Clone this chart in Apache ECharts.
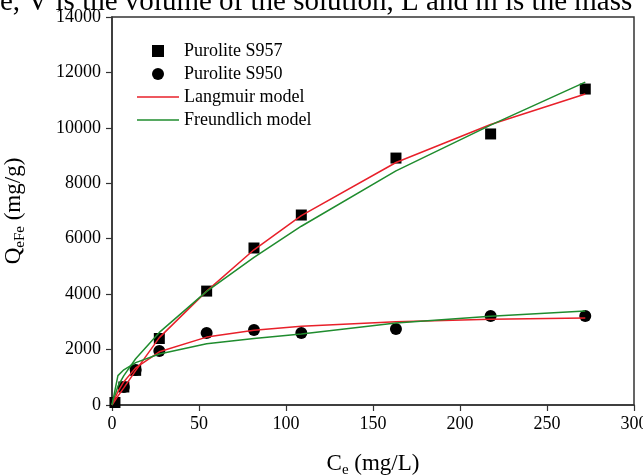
<!DOCTYPE html>
<html>
<head>
    <meta charset="utf-8">
    <script src="https://cdn.jsdelivr.net/npm/echarts@6/dist/echarts.min.js"></script>
    <style>
        html, body { margin: 0; padding: 0; background: #fff; }
    </style>
</head>
<body>
<div id="main" style="width: 643px;height:476px;"></div>
<script type="text/javascript">
    // measured points (Ce, Qe)
    var s957Ce = [1.7, 6.8, 13.6, 27.2, 54.4, 81.6, 108.8, 163.2, 217.6, 272];
    var s957Q  = [90, 650, 1250, 2400, 4110, 5665, 6855, 8910, 9780, 11400];
    var s950Ce = [6.8, 13.6, 27.2, 54.4, 81.6, 108.8, 163.2, 217.6, 272];
    var s950Q  = [650, 1260, 1950, 2600, 2710, 2600, 2740, 3210, 3210];

    // model lines
    var fitCe     = [0, 3.4, 6.8, 13.6, 27.2, 54.4, 81.6, 108.8, 163.2, 217.6, 272];
    var s957Lang  = [0, 320, 620, 1240, 2430, 4110, 5600, 6830, 8750, 10120, 11220];
    var s957Freu  = [0, 680, 1060, 1670, 2620, 4100, 5330, 6450, 8450, 10100, 11650];
    var s950Lang  = [0, 480, 840, 1340, 1920, 2450, 2700, 2840, 3000, 3090, 3140];
    var s950Freu  = [0, 1060, 1270, 1530, 1840, 2210, 2400, 2560, 2960, 3200, 3390];

    function pairs(xs, ys) {
        var out = [];
        for (var i = 0; i < xs.length; i++) out.push([xs[i], ys[i]]);
        return out;
    }

    var FONT = '"Liberation Serif", "Times New Roman", serif';
    var RED = '#e8202a', GREEN = '#1f8c2e';
    var LINE_ICON = 'path://M0,0H42V1.6H0Z';
    var SQUARE_ICON = 'path://M0,0H12V12H0Z';

    var myChart = echarts.init(document.getElementById('main'));

    var option = {
        animation: false,
        backgroundColor: '#fff',
        textStyle: { fontFamily: FONT, color: '#000' },
        graphic: [{
            type: 'text',
            left: 0,
            top: -12,
            style: {
                text: 'e, V is the volume of the solution, L and m is the mass',
                font: '29px ' + FONT,
                fill: '#000'
            }
        }],
        grid: {
            left: 112, right: 9, top: 17, bottom: 71,
            outerBoundsMode: 'none',
            show: true, borderColor: '#333', borderWidth: 1.5
        },
        legend: {
            orient: 'vertical',
            left: 132,
            top: 37,
            itemWidth: 42,
            itemHeight: 12,
            itemGap: 5,
            textStyle: { fontFamily: FONT, fontSize: 18, color: '#000' },
            data: [
                { name: 'Purolite S957', icon: SQUARE_ICON },
                { name: 'Purolite S950', icon: 'circle' },
                { name: 'Langmuir model', icon: LINE_ICON },
                { name: 'Freundlich model', icon: LINE_ICON }
            ]
        },
        xAxis: {
            type: 'value',
            min: 0, max: 300, interval: 50,
            name: '{b|C}{s|e}{b| (mg/L)}',
            nameLocation: 'middle',
            nameGap: 44,
            nameTextStyle: {
                rich: {
                    b: { fontFamily: FONT, fontSize: 23, color: '#000' },
                    s: { fontFamily: FONT, fontSize: 15, color: '#000', verticalAlign: 'bottom', padding: [14, 0, 0, 0] }
                }
            },
            splitLine: { show: false },
            axisLine: { lineStyle: { color: '#333', width: 1.5 } },
            axisTick: { length: 6, lineStyle: { color: '#333', width: 1.2 } },
            axisLabel: { fontFamily: FONT, fontSize: 18, color: '#000', margin: 10,
                formatter: function (v) { return String(v); } }
        },
        yAxis: {
            type: 'value',
            min: 0, max: 14000, interval: 2000,
            name: '{b|Q}{s|eFe}{b| (mg/g)}',
            nameLocation: 'middle',
            nameGap: 84,
            nameTextStyle: {
                rich: {
                    b: { fontFamily: FONT, fontSize: 23, color: '#000' },
                    s: { fontFamily: FONT, fontSize: 15, color: '#000', verticalAlign: 'bottom', padding: [14, 0, 0, 0] }
                }
            },
            splitLine: { show: false },
            axisLine: { show: true, lineStyle: { color: '#333', width: 1.5 } },
            axisTick: { show: true, length: 6, lineStyle: { color: '#333', width: 1.2 } },
            axisLabel: { fontFamily: FONT, fontSize: 18, color: '#000', margin: 11,
                formatter: function (v) { return String(v); } }
        },
        series: [
            {
                name: 'Langmuir model', type: 'line', symbol: 'none', z: 3,
                data: pairs(fitCe, s957Lang),
                lineStyle: { color: RED, width: 1.5 }, itemStyle: { color: RED }
            },
            {
                name: 'Freundlich model', type: 'line', symbol: 'none', z: 3,
                data: pairs(fitCe, s957Freu),
                lineStyle: { color: GREEN, width: 1.5 }, itemStyle: { color: GREEN }
            },
            {
                name: 'Langmuir model', type: 'line', symbol: 'none', z: 3,
                data: pairs(fitCe, s950Lang),
                lineStyle: { color: RED, width: 1.5 }, itemStyle: { color: RED }
            },
            {
                name: 'Freundlich model', type: 'line', symbol: 'none', z: 3,
                data: pairs(fitCe, s950Freu),
                lineStyle: { color: GREEN, width: 1.5 }, itemStyle: { color: GREEN }
            },
            {
                name: 'Purolite S957', type: 'scatter', symbol: 'rect', symbolSize: 11, z: 2,
                data: pairs(s957Ce, s957Q),
                itemStyle: { color: '#000', opacity: 1 }
            },
            {
                name: 'Purolite S950', type: 'scatter', symbol: 'circle', symbolSize: 12, z: 2,
                data: pairs(s950Ce, s950Q),
                itemStyle: { color: '#000', opacity: 1 }
            }
        ]
    };

    myChart.setOption(option);
</script>
</body>
</html>
